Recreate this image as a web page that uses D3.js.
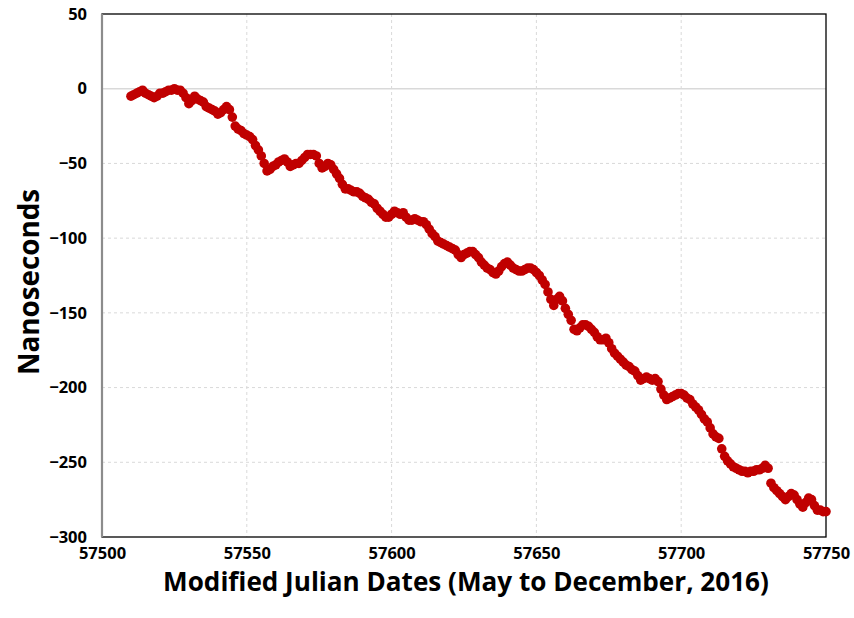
<!DOCTYPE html>
<html>
<head>
<meta charset="utf-8">
<script src="https://cdn.jsdelivr.net/npm/d3@7"></script>
<style>
  html, body { margin: 0; padding: 0; background: #fff; }
  svg { display: block; }
  text { font-family: "Open Sans", "Liberation Sans", sans-serif; font-weight: bold; fill: #000; }
</style>
</head>
<body>
<svg id="chart" width="854" height="618"></svg>
<script>
// ---- data ----
const startMJD = 57510;
const nanoseconds = [
  -5, -4, -3, -2, -1, -3, -4, -5, -6, -5,
  -3, -3, -2, -1, -1, 0, -1, -1, -3, -6,
  -10, -8, -5, -7, -8, -9, -12, -13, -14, -15,
  -17, -16, -14, -12, -14, -19, -25, -27, -28, -30,
  -31, -32, -34, -38, -41, -45, -50, -55, -54, -52,
  -51, -49, -48, -47, -49, -52, -51, -50, -50, -48,
  -46, -44, -44, -44, -45, -50, -53, -52, -50, -51,
  -54, -57, -60, -64, -67, -67, -68, -69, -69, -70,
  -72, -73, -74, -76, -77, -80, -82, -84, -86, -86,
  -84, -82, -83, -84, -83, -86, -88, -88, -87, -88,
  -89, -89, -91, -94, -97, -99, -102, -103, -104, -105,
  -106, -107, -108, -111, -113, -111, -110, -109, -109, -111,
  -113, -116, -118, -120, -121, -123, -124, -122, -119, -117,
  -116, -118, -120, -121, -122, -122, -121, -120, -120, -121,
  -123, -125, -128, -131, -136, -141, -145, -141, -139, -142,
  -147, -151, -155, -161, -162, -160, -158, -158, -159, -161,
  -163, -166, -168, -168, -167, -170, -174, -177, -179, -181,
  -183, -185, -186, -188, -189, -192, -195, -194, -193, -194,
  -195, -194, -196, -201, -205, -208, -207, -206, -205, -204,
  -204, -205, -207, -208, -211, -213, -215, -218, -221, -223,
  -227, -231, -233, -234, -241, -246, -249, -251, -253, -254,
  -255, -256, -256, -257, -256, -256, -255, -255, -254, -252,
  -254, -264, -267, -269, -271, -273, -275, -273, -271, -272,
  -275, -278, -280, -277, -274, -275, -279, -282, -282, -283,
  -283
];
const mjd = nanoseconds.map((_, i) => startMJD + i);
const xTicks = [57500, 57550, 57600, 57650, 57700, 57750];
const yTicks = [50, 0, -50, -100, -150, -200, -250, -300];
const xTitle = "Modified Julian Dates (May to December, 2016)";
const yTitle = "Nanoseconds";

// ---- layout ----
const svg = d3.select("#chart");
const L = 102, R = 826, T = 14, B = 537;
const x = d3.scaleLinear().domain([57500, 57750]).range([L, R]);
const y = d3.scaleLinear().domain([-300, 50]).range([B, T]);

// vertical gridlines (dashed)
svg.append("g").selectAll("line").data(xTicks.slice(1, -1)).join("line")
  .attr("x1", d => x(d)).attr("x2", d => x(d))
  .attr("y1", T).attr("y2", B)
  .attr("stroke", "#d9d9d9").attr("stroke-width", 1).attr("stroke-dasharray", "3,3");
// horizontal gridlines (dashed)
svg.append("g").selectAll("line").data(yTicks.filter(d => d !== 50 && d !== -300 && d !== 0)).join("line")
  .attr("x1", L).attr("x2", R)
  .attr("y1", d => y(d)).attr("y2", d => y(d))
  .attr("stroke", "#d9d9d9").attr("stroke-width", 1).attr("stroke-dasharray", "3,3");
// zero line (horizontal axis crossing)
svg.append("line")
  .attr("x1", L).attr("x2", R).attr("y1", y(0)).attr("y2", y(0))
  .attr("stroke", "#d9d9d9").attr("stroke-width", 1.5);

// frame
svg.append("rect").attr("x", L).attr("y", T).attr("width", R - L).attr("height", B - T)
  .attr("fill", "none").attr("stroke", "#000").attr("stroke-width", 1.3);
svg.append("line").attr("x1", L).attr("x2", L).attr("y1", T).attr("y2", B)
  .attr("stroke", "#8c8c8c").attr("stroke-width", 2.2);

// axes (labels only)
const xAxis = d3.axisBottom(x).tickValues(xTicks).tickSize(0).tickPadding(10).tickFormat(d3.format("d"));
const gx = svg.append("g").attr("transform", `translate(0,${B})`).call(xAxis);
gx.select(".domain").remove();
gx.selectAll("text").style("font-size", "16.5px").attr("dy", "0.71em");

const yAxis = d3.axisLeft(y).tickValues(yTicks).tickSize(0).tickPadding(15).tickFormat(d3.format("d"));
const gy = svg.append("g").attr("transform", `translate(${L},0)`).call(yAxis);
gy.select(".domain").remove();
gy.selectAll("text").style("font-size", "16.5px");

// points
svg.append("g").selectAll("circle").data(nanoseconds).join("circle")
  .attr("cx", (d, i) => x(mjd[i]))
  .attr("cy", d => y(d))
  .attr("r", 4.8)
  .attr("fill", "#c00000");

// titles
function fitText(sel, width) {
  const len = sel.node().getComputedTextLength();
  const fs = parseFloat(sel.style("font-size"));
  sel.style("font-size", (fs * width / len) + "px");
}
const xt = svg.append("text").attr("x", 466).attr("y", 591)
  .attr("text-anchor", "middle").style("font-size", "24px").text(xTitle);
fitText(xt, 606);
const yt = svg.append("text").attr("transform", "translate(39,282) rotate(-90)")
  .attr("text-anchor", "middle").style("font-size", "28px").text(yTitle);
fitText(yt, 186);
</script>
</body>
</html>
